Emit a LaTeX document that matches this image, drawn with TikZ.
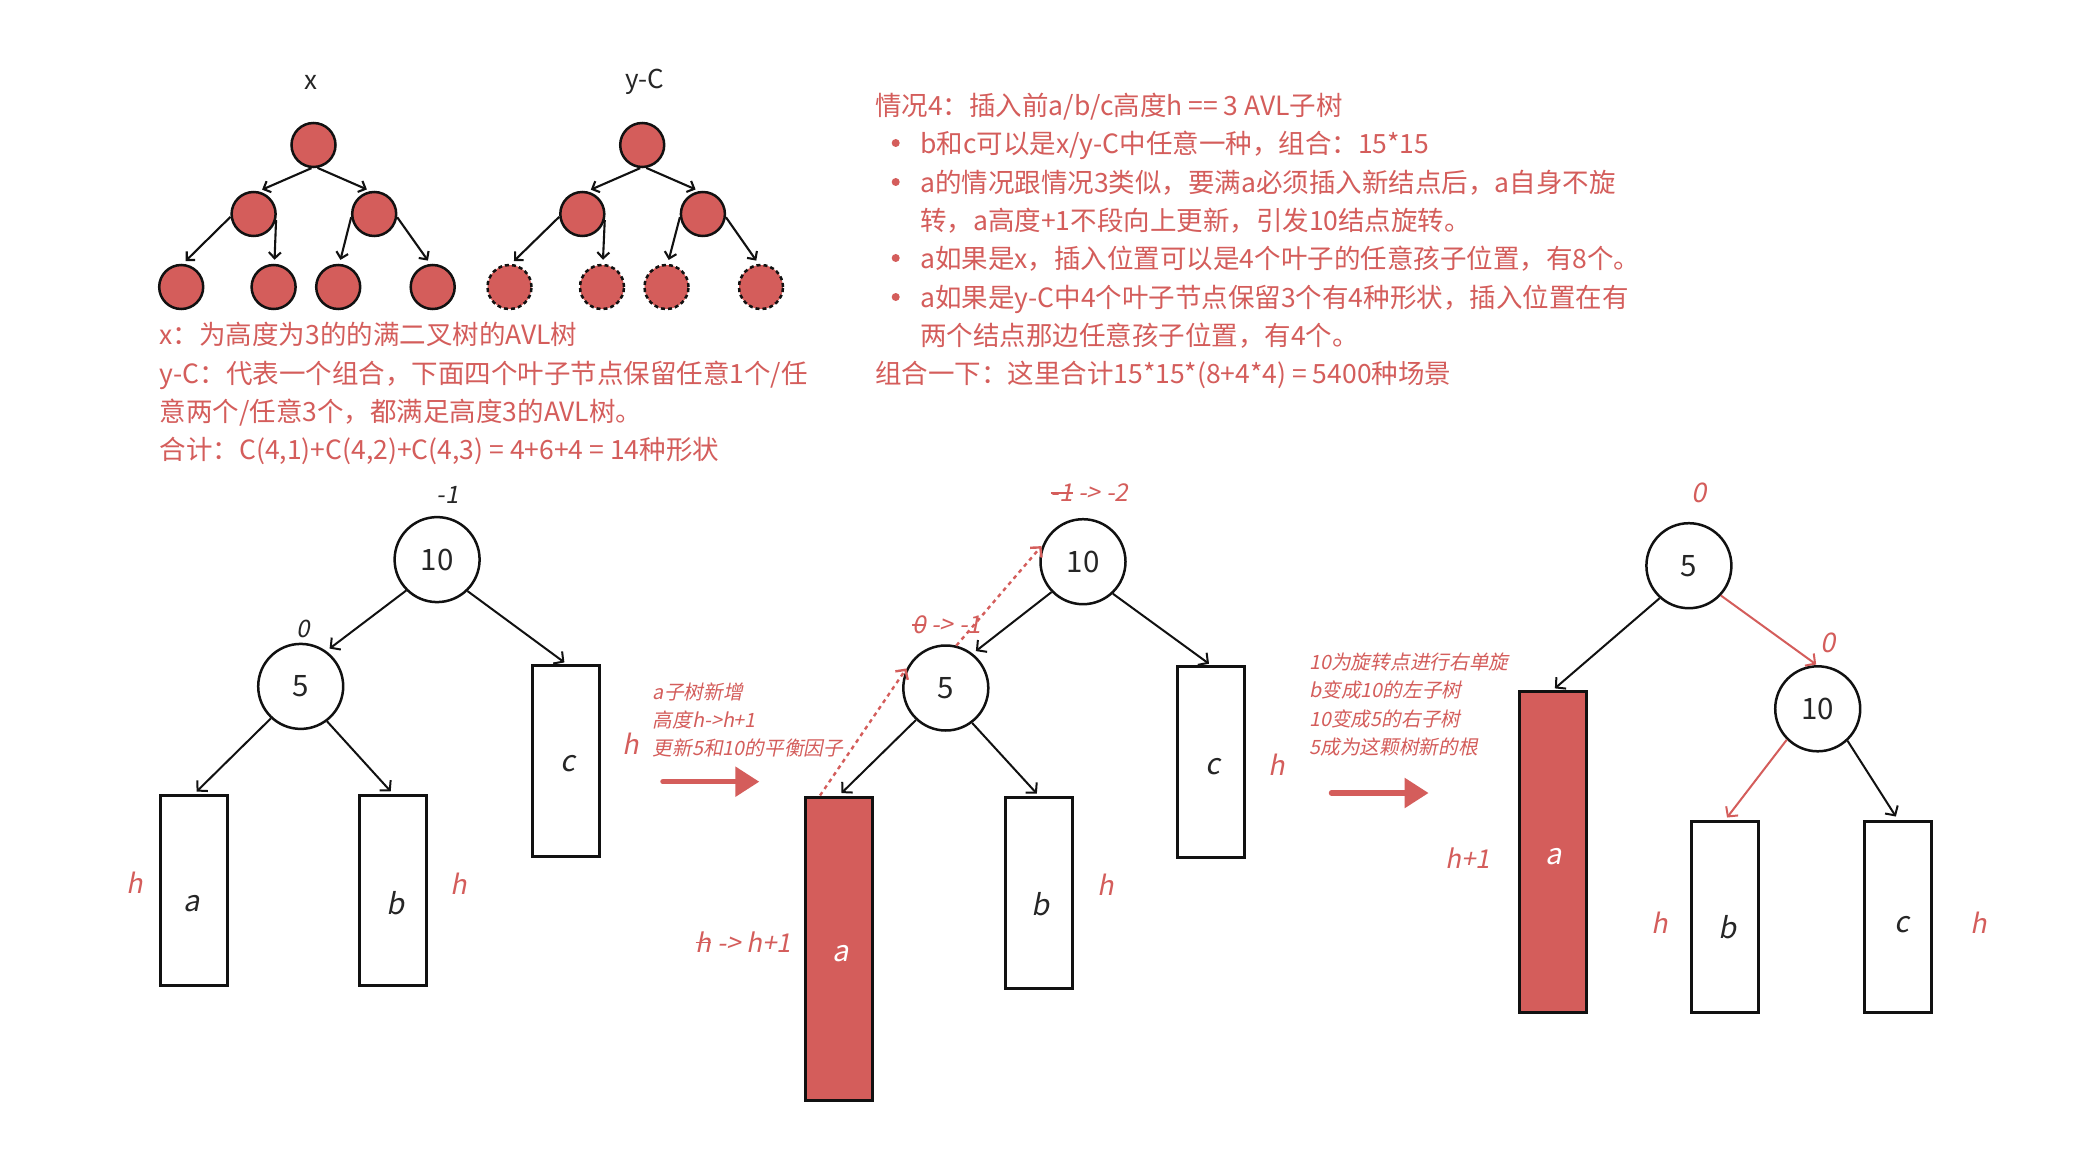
\documentclass[tikz,border=0pt]{standalone}
\usepackage{fontspec}
\setmainfont{Noto Sans CJK SC}
\newfontfamily\itf[FakeSlant=0.2]{Noto Sans CJK SC}
\usetikzlibrary{arrows.meta}
\definecolor{rd}{RGB}{212,93,91}
\definecolor{ink}{RGB}{17,17,17}
\definecolor{txt}{RGB}{38,38,38}
\newsavebox\strkbox
\newcommand\strk[1]{\sbox\strkbox{#1}\rlap{\usebox\strkbox}\rule[0.33em]{\wd\strkbox}{0.075em}}
\begin{document}
\begin{tikzpicture}[x=1pt,y=-1pt,
  tnode/.style={circle,draw=ink,line width=2.5pt,fill=rd,minimum size=44pt,inner sep=0pt},
  tdash/.style={tnode,dash pattern=on 4pt off 3pt},
  tarr/.style={draw=ink,line width=2.1pt,-{Straight Barb[length=6pt,width=12pt]},shorten >=4pt},
  bnode/.style={circle,draw=ink,line width=2.5pt,minimum size=85pt,inner sep=0pt,text=txt,font=\fontsize{29.5}{32}\selectfont},
  sbox/.style={draw=ink,line width=3pt,minimum width=67pt,inner sep=0pt},
  rbox/.style={sbox,fill=rd},
  barr/.style={draw=ink,line width=2pt,-{Straight Barb[length=7pt,width=15pt]}},
  rarr/.style={barr,draw=rd},
  darr/.style={draw=rd,line width=2.4pt,dash pattern=on 4pt off 4pt,-{Straight Barb[length=7pt,width=15pt]}},
  bigarr/.style={draw=rd,line width=5.5pt,line cap=round,-{Triangle[length=24pt,width=29pt]}},
  body/.style={anchor=west,inner sep=0pt,text=rd,font=\fontsize{26.5}{30}\selectfont,text height=23.3pt,text depth=3.2pt},
  note/.style={anchor=west,inner sep=0pt,text=rd,font=\fontsize{19.7}{24}\selectfont\itf,text height=17.3pt,text depth=2.4pt},
  klab/.style={inner sep=0pt,text=txt,font=\fontsize{29}{32}\selectfont\itf},
  wlab/.style={klab,text=white},
  nlab/.style={inner sep=0pt,text=txt,font=\fontsize{24}{28}\selectfont\itf},
  rlab/.style={inner sep=0pt,text=rd,font=\fontsize{27}{30}\selectfont\itf},
  rnum/.style={inner sep=0pt,text=rd,font=\fontsize{24.5}{28}\selectfont\itf},
  ttl/.style={inner sep=0pt,text=txt,font=\fontsize{26}{30}\selectfont}
]
\fill[white] (0,0) rectangle (2100,1158);
\useasboundingbox (0,0) rectangle (2100,1158);

% ---------- top trees ----------
\node[ttl] (tx) at (311,82) {x};
\node[ttl] (tyc) at (645,82) {y-C};

\node[tnode] (xr) at (313.5,145) {};
\node[tnode] (xl) at (253.6,214) {};
\node[tnode] (xR) at (374.2,214) {};
\node[tnode] (x1) at (181.2,287) {};
\node[tnode] (x2) at (273.6,287) {};
\node[tnode] (x3) at (338.2,287) {};
\node[tnode] (x4) at (432.7,287) {};
\draw[tarr] (xr.265) -- (xl.78);
\draw[tarr] (xr.280) -- (xR.99);
\draw[tarr] (xl.187) -- (x1.86);
\draw[tarr] (xl.-15) -- (x2.88);
\draw[tarr] (xR.188) -- (x3.87);
\draw[tarr] (xR.-8) -- (x4.96);

\node[tnode] (yr) at (642.2,145) {};
\node[tnode] (yl) at (582.3,214) {};
\node[tnode] (yR) at (702.9,214) {};
\node[tdash] (y1) at (509.5,287) {};
\node[tdash] (y2) at (602,287) {};
\node[tdash] (y3) at (666.5,287) {};
\node[tdash] (y4) at (761,287) {};
\draw[tarr] (yr.265) -- (yl.78);
\draw[tarr] (yr.280) -- (yR.99);
\draw[tarr] (yl.187) -- (y1.86);
\draw[tarr] (yl.-15) -- (y2.88);
\draw[tarr] (yR.188) -- (y3.87);
\draw[tarr] (yR.-8) -- (y4.96);

\node[body] (L1) at (159.5,334) {x：为高度为3的的满二叉树的AVL树};
\node[body] (L2) at (159.5,373) {y-C：代表一个组合，下面四个叶子节点保留任意1个/任};
\node[body] (L3) at (159.5,411.5) {意两个/任意3个，都满足高度3的AVL树。};
\node[body] (L4) at (159.5,449) {合计：C(4,1)+C(4,2)+C(4,3) = 4+6+4 = 14种形状};

% ---------- right text ----------
\node[body] (R1) at (875,105) {情况4：插入前a/b/c高度h == 3 AVL子树};
\fill[rd] (895.7,143) circle (4);
\node[body] (R2) at (920,143) {b和c可以是x/y-C中任意一种，组合：15*15};
\fill[rd] (895.7,182) circle (4);
\node[body] (R3) at (920,182) {a的情况跟情况3类似，要满a必须插入新结点后，a自身不旋};
\node[body] (R4) at (920,220) {转，a高度+1不段向上更新，引发10结点旋转。};
\fill[rd] (895.7,258) circle (4);
\node[body] (R5) at (920,258) {a如果是x，插入位置可以是4个叶子的任意孩子位置，有8个。};
\fill[rd] (895.7,297) circle (4);
\node[body] (R6) at (920,297) {a如果是y-C中4个叶子节点保留3个有4种形状，插入位置在有};
\node[body] (R7) at (920,335) {两个结点那边任意孩子位置，有4个。};
\node[body] (R8) at (875,373) {组合一下：这里合计15*15*(8+4*4) = 5400种场景};

% ---------- tree 1 ----------
\node[bnode] (a10) at (437.1,559.6) {10};
\node[bnode] (a5) at (300.7,686.4) {5};
\node[sbox,minimum height=190pt] (aa) at (193.75,890.85) {};
\node[sbox,minimum height=190pt] (ab) at (393.4,890.85) {};
\node[sbox,minimum height=191pt] (ac) at (566,760.6) {};
\node[klab] (aal) at (192,903.5) {a};
\node[klab] (abl) at (395.7,902.7) {b};
\node[klab] (acl) at (567.9,763.4) {c};
\node[nlab] (af10) at (447.5,495) {-1};
\node[nlab] (af5) at (303.6,628.9) {0};
\node[rlab] (ah1) at (135,882.5) {h};
\node[rlab] (ah2) at (458.9,884) {h};
\node[rlab] (ah3) at (630.4,743.8) {h};
\draw[barr,shorten >=4pt] (a10.225) -- (a5.54);
\draw[barr,shorten >=2pt] (a10.314.6) -- (ac.north);
\draw[barr,shorten >=4pt] (a5.227) -- (aa.north);
\draw[barr,shorten >=4pt] (a5.307) -- (ab.north);

% ---------- arrow 1 ----------
\node[note] (m1) at (652.7,691.7) {a子树新增};
\node[note] (m2) at (652.7,720) {高度h->h+1};
\node[note] (m3) at (652.7,748.3) {更新5和10的平衡因子};
\coordinate (g1s) at (663,781.7);
\coordinate (g1e) at (759.3,781.7);
\draw[bigarr] (g1s) -- (g1e);

% ---------- tree 2 ----------
\node[bnode] (b10) at (1083,561.7) {10};
\node[bnode] (b5) at (945.8,688) {5};
\node[rbox,minimum height=303pt] (ba) at (839,948.5) {};
\node[sbox,minimum height=191pt] (bb) at (1039.2,893.2) {};
\node[sbox,minimum height=191pt] (bc) at (1211,762.2) {};
\node[wlab] (bal) at (841,953.3) {a};
\node[klab] (bbl) at (1040.5,904) {b};
\node[klab] (bcl) at (1212.9,766.4) {c};
\node[rnum] (bf10) at (1089.5,493) {\strk{-1} -> -2};
\node[rnum] (bf5) at (946.7,625) {\strk{0} -> -1};
\node[rlab,font=\fontsize{26}{30}\selectfont\itf] (bha) at (743.3,941.7) {\strk{h} -> h+1};
\node[rlab] (bhb) at (1105.3,885) {h};
\node[rlab] (bhc) at (1276.3,764.3) {h};
\draw[barr,shorten >=4pt] (b10.224.7) -- (b5.52.5);
\draw[barr,shorten >=2.5pt] (b10.313.6) -- (bc.north);
\draw[barr,shorten >=3.5pt] (b5.227.9) -- (ba.north);
\draw[barr,shorten >=3.5pt] (b5.307) -- (bb.north);
\draw[darr,shorten >=2pt] ([xshift=-19pt]ba.north) -- (b5.151.7);
\draw[darr,shorten >=2pt] (b5.76) -- (b10.157.4);

% ---------- arrow 2 ----------
\node[note] (r1) at (1309.2,661.6) {10为旋转点进行右单旋};
\node[note] (r2) at (1309.2,690) {b变成10的左子树};
\node[note] (r3) at (1309.2,719) {10变成5的右子树};
\node[note] (r4) at (1309.2,747.5) {5成为这颗树新的根};
\coordinate (g2s) at (1331.5,793);
\coordinate (g2e) at (1428.6,793);
\draw[bigarr] (g2s) -- (g2e);

% ---------- tree 3 ----------
\node[bnode] (c5) at (1688.9,565.7) {5};
\node[bnode] (c10) at (1817.7,708.8) {10};
\node[rbox,minimum height=321pt] (ca) at (1553,852) {};
\node[sbox,minimum height=191pt] (cb) at (1725.2,916.9) {};
\node[sbox,minimum height=191pt] (cc) at (1898,916.9) {};
\node[wlab] (cal) at (1553.9,856.6) {a};
\node[klab] (cbl) at (1727,926.9) {b};
\node[klab] (ccl) at (1901.5,924.3) {c};
\node[rlab] (cf5) at (1698.5,492.6) {0};
\node[rlab] (cf10) at (1828,642.4) {0};
\node[rlab,font=\fontsize{26}{30}\selectfont\itf] (cha) at (1467.6,857.7) {h+1};
\node[rlab] (chb) at (1659.5,922.5) {h};
\node[rlab] (chc) at (1978.6,922.5) {h};
\draw[barr,shorten >=2.5pt] (c5.228.3) -- (ca.north);
\draw[rarr,shorten >=1pt] (c5.317.3) -- (c10.91.5);
\draw[rarr,shorten >=3pt] (c10.225.8) -- (cb.north);
\draw[barr,shorten >=4pt] (c10.313.4) -- (cc.north);
\end{tikzpicture}
\end{document}
